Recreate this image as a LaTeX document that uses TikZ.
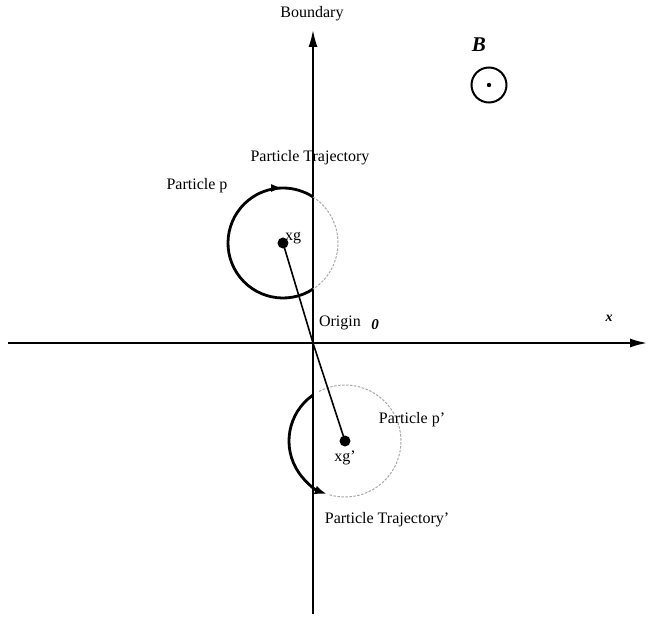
\documentclass[tikz,border=0pt]{standalone}
\usepackage{fontspec}
\setmainfont{Liberation Serif}
\usetikzlibrary{arrows.meta,decorations.markings}

\begin{document}
\begin{tikzpicture}[x=1pt,y=1pt,
  axis/.style={line width=1.7pt,-{Latex[length=17pt,width=9pt]}},
  traj/.style={line width=2.8pt},
  ghost/.style={gray!70,line width=1pt,dash pattern=on 2.5pt off 1.5pt},
  dot/.style={circle,fill,inner sep=0pt,minimum size=11pt},
  lbl/.style={font=\fontsize{16}{19}\selectfont,inner sep=0pt}]
  \useasboundingbox (-313,-273) rectangle (335,343);
  % Axes
  \coordinate (O) at (0,0);
  \coordinate (bbot) at (0,-271);
  \coordinate (btop) at (0,313);
  \coordinate (xleft) at (-305,0);
  \coordinate (xright) at (334,0);
  \draw[axis] (bbot) -- (btop);
  \draw[axis] (xleft) -- (xright);
  \node[lbl] (boundary) at (-1,329) {Boundary};
  \node[lbl,font=\bfseries\itshape\fontsize{14}{16}\selectfont] (xlbl) at (296,25) {x};
  \node[lbl] (origin) at (27,20) {Origin};
  \node[lbl,font=\bfseries\itshape\fontsize{15}{18}\selectfont] (olbl) at (62,18) {0};
  % Field B
  \node[circle,draw,line width=2pt,minimum size=35pt,inner sep=0pt] (bsym) at (176,258) {};
  \fill (bsym.center) circle (2.2pt);
  \node[lbl,font=\bfseries\itshape\fontsize{21}{24}\selectfont] (blbl) at (166,298) {B};
  % Particle p
  \node[dot] (xg) at (-30,100) {};
  \draw[traj,postaction={decorate},decoration={markings,mark=at position 0.866 with {\arrow{Latex[length=12pt,width=8pt]}}}]
    ([shift={(303.1:55)}]xg.center) arc[start angle=303.1,end angle=56.9,radius=55];
  \draw[ghost] ([shift={(56.9:55)}]xg.center) arc[start angle=56.9,end angle=-56.9,radius=55];
  \node[lbl,anchor=west] (xglbl) at (-28,105) {xg};
  \node[lbl] (plbl) at (-116,157) {Particle p};
  \node[lbl] (trlbl) at (-3,185) {Particle Trajectory};
  % Particle p'
  \node[dot] (xgp) at (32,-98) {};
  \draw[traj,-{Latex[length=12pt,width=9pt]}]
    ([shift={(124.8:56)}]xgp.center) arc[start angle=124.8,end angle=251,radius=56];
  \draw[ghost] ([shift={(254:56)}]xgp.center) arc[start angle=254,end angle=478,radius=56];
  \node[lbl] (xgplbl) at (32,-115) {xg'};
  \node[lbl] (pplbl) at (99,-77) {Particle p'};
  \node[lbl] (trplbl) at (74,-177) {Particle Trajectory'};
  % Link through origin
  \draw[line width=1.6pt] (xg.center) -- (O) -- (xgp.center);
\end{tikzpicture}
\end{document}
